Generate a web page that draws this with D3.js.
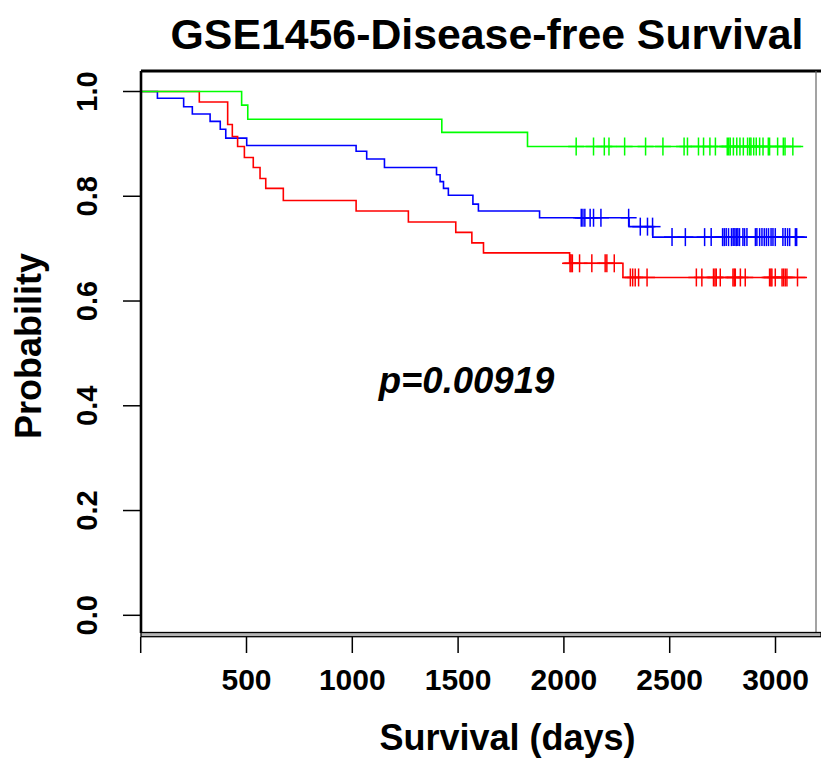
<!DOCTYPE html>
<html>
<head>
<meta charset="utf-8">
<script src="https://cdn.jsdelivr.net/npm/d3@7"></script>
<style>
  html, body { margin: 0; padding: 0; background: #ffffff; }
  svg { display: block; }
  text { font-family: "Liberation Sans", Arial, Helvetica, sans-serif; font-weight: bold; fill: #000; }
</style>
</head>
<body>
<svg id="chart" width="821" height="760"></svg>
<script>
// Kaplan-Meier curves, disease-free survival, three risk groups

const xTicks = [0, 500, 1000, 1500, 2000, 2500, 3000];
const xTickLabels = ["", "500", "1000", "1500", "2000", "2500", "3000"];
const yTicks = [0, 0.2, 0.4, 0.6, 0.8, 1.0];
const yTickLabels = ["0.0", "0.2", "0.4", "0.6", "0.8", "1.0"];

// blue group: event times (days) and survival just after each event
const blueEventTimes = [79, 203, 244, 328, 376, 402, 501, 1018, 1068, 1152, 1398, 1415, 1431, 1454, 1570, 1596, 1885, 2308, 2420];
const blueSurvival   = [0.987, 0.971, 0.957, 0.943, 0.928, 0.911, 0.897, 0.886, 0.871, 0.855, 0.841, 0.828, 0.815, 0.802, 0.785, 0.772, 0.759, 0.742, 0.722];
const blueCensored   = [2082, 2090, 2099, 2124, 2140, 2175, 2306, 2361, 2395, 2419, 2511, 2574, 2665, 2696, 2750, 2758, 2767, 2778, 2792, 2800, 2808, 2815, 2822, 2830, 2846, 2854, 2865, 2905, 2912, 2925, 2936, 2947, 2957, 2967, 2979, 2988, 2999, 3035, 3046, 3057, 3067, 3094, 3100];
const blueLastTime   = 3149;

// red group
const redEventTimes = [277, 411, 433, 458, 490, 532, 564, 591, 674, 1018, 1265, 1489, 1565, 1620, 2027, 2279];
const redSurvival   = [0.980, 0.937, 0.914, 0.895, 0.874, 0.855, 0.834, 0.815, 0.792, 0.772, 0.751, 0.731, 0.711, 0.692, 0.672, 0.645];
const redCensored   = [2029, 2034, 2040, 2074, 2132, 2195, 2203, 2238, 2314, 2325, 2337, 2353, 2393, 2626, 2652, 2707, 2714, 2720, 2739, 2799, 2805, 2810, 2834, 2857, 2972, 2978, 2983, 2999, 3031, 3038, 3046, 3054, 3104];
const redLastTime   = 3149;

// green group
const greenEventTimes = [477, 506, 1423, 1828];
const greenSurvival   = [0.974, 0.947, 0.922, 0.895];
const greenCensored   = [2058, 2140, 2191, 2213, 2287, 2386, 2468, 2568, 2584, 2636, 2660, 2690, 2716, 2772, 2779, 2786, 2801, 2817, 2832, 2848, 2868, 2878, 2884, 2897, 2909, 2925, 2941, 2966, 2972, 3010, 3037, 3045, 3082];
const greenLastTime   = 3131;

const titleText = "GSE1456-Disease-free Survival";
const xTitle = "Survival (days)";
const yTitle = "Probability";
const pValueText = "p=0.00919";

const series = [
  { color: "#0000ff", times: blueEventTimes, surv: blueSurvival, censored: blueCensored, last: blueLastTime },
  { color: "#ff0000", times: redEventTimes, surv: redSurvival, censored: redCensored, last: redLastTime },
  { color: "#00ff00", times: greenEventTimes, surv: greenSurvival, censored: greenCensored, last: greenLastTime }
];

const svg = d3.select("#chart");

const plot = { left: 141, right: 816, top: 71, bottom: 633 };
const x = d3.scaleLinear().domain([0, 3000]).range([140.7, 775.5]);
const y = d3.scaleLinear().domain([0, 1]).range([615.3, 91.5]);

// step-function helpers
function stepPoints(s) {
  const pts = [[0, 1]];
  let level = 1;
  s.times.forEach((t, i) => {
    pts.push([t, level]);
    level = s.surv[i];
    pts.push([t, level]);
  });
  pts.push([s.last, level]);
  return pts;
}
function levelAt(s, t) {
  let level = 1;
  s.times.forEach((et, i) => { if (et <= t) level = s.surv[i]; });
  return level;
}

const line = d3.line().x(d => x(d[0])).y(d => y(d[1]));

// curves with "+" censoring marks
series.forEach(s => {
  svg.append("path")
    .attr("d", line(stepPoints(s)))
    .attr("fill", "none")
    .attr("stroke", s.color)
    .attr("stroke-width", 1.6);

  const marks = svg.append("g").attr("stroke", s.color).attr("stroke-width", 1.5);
  s.censored.forEach(t => {
    const cx = x(t), cy = y(levelAt(s, t));
    marks.append("line").attr("x1", cx).attr("x2", cx).attr("y1", cy - 9).attr("y2", cy + 9);
    marks.append("line").attr("x1", cx - 8).attr("x2", cx + 8).attr("y1", cy).attr("y2", cy);
  });
});

// plot frame
svg.append("line").attr("x1", plot.left).attr("x2", 821).attr("y1", plot.top).attr("y2", plot.top)
  .attr("stroke", "#000").attr("stroke-width", 2.8);
svg.append("line").attr("x1", plot.left).attr("x2", plot.left).attr("y1", plot.top).attr("y2", plot.bottom)
  .attr("stroke", "#000").attr("stroke-width", 2.6);
svg.append("line").attr("x1", plot.right).attr("x2", plot.right).attr("y1", plot.top).attr("y2", plot.bottom)
  .attr("stroke", "#666").attr("stroke-width", 1.2);
svg.append("rect").attr("x", plot.left).attr("y", plot.bottom - 0.5).attr("width", 821 - plot.left).attr("height", 4.2)
  .attr("fill", "#b4b4b4").attr("stroke", "#000").attr("stroke-width", 1.3);

// x axis ticks and labels
const xAxis = svg.append("g");
xTicks.forEach((t, i) => {
  xAxis.append("line").attr("x1", x(t)).attr("x2", x(t)).attr("y1", 637).attr("y2", 653)
    .attr("stroke", "#000").attr("stroke-width", 1.5);
  xAxis.append("text").attr("x", x(t)).attr("y", 689.5).attr("text-anchor", "middle")
    .attr("font-size", 30).text(xTickLabels[i]);
});

// y axis ticks and labels
const yAxis = svg.append("g");
yTicks.forEach((t, i) => {
  yAxis.append("line").attr("x1", 123).attr("x2", 141).attr("y1", y(t)).attr("y2", y(t))
    .attr("stroke", "#000").attr("stroke-width", 1.5);
  yAxis.append("text").attr("transform", `translate(97,${y(t)}) rotate(-90)`)
    .attr("text-anchor", "middle").attr("font-size", 29).text(yTickLabels[i]);
});

// titles
svg.append("text").attr("x", 487).attr("y", 48.5).attr("text-anchor", "middle")
  .attr("font-size", 42.8).text(titleText);
svg.append("text").attr("x", 507.5).attr("y", 750).attr("text-anchor", "middle")
  .attr("font-size", 36).text(xTitle);
svg.append("text").attr("transform", "translate(41,346) rotate(-90)")
  .attr("text-anchor", "middle").attr("font-size", 36).text(yTitle);
svg.append("text").attr("x", 466.5).attr("y", 392.5).attr("text-anchor", "middle")
  .attr("font-size", 36.5).attr("font-style", "italic").text(pValueText);
</script>
</body>
</html>
